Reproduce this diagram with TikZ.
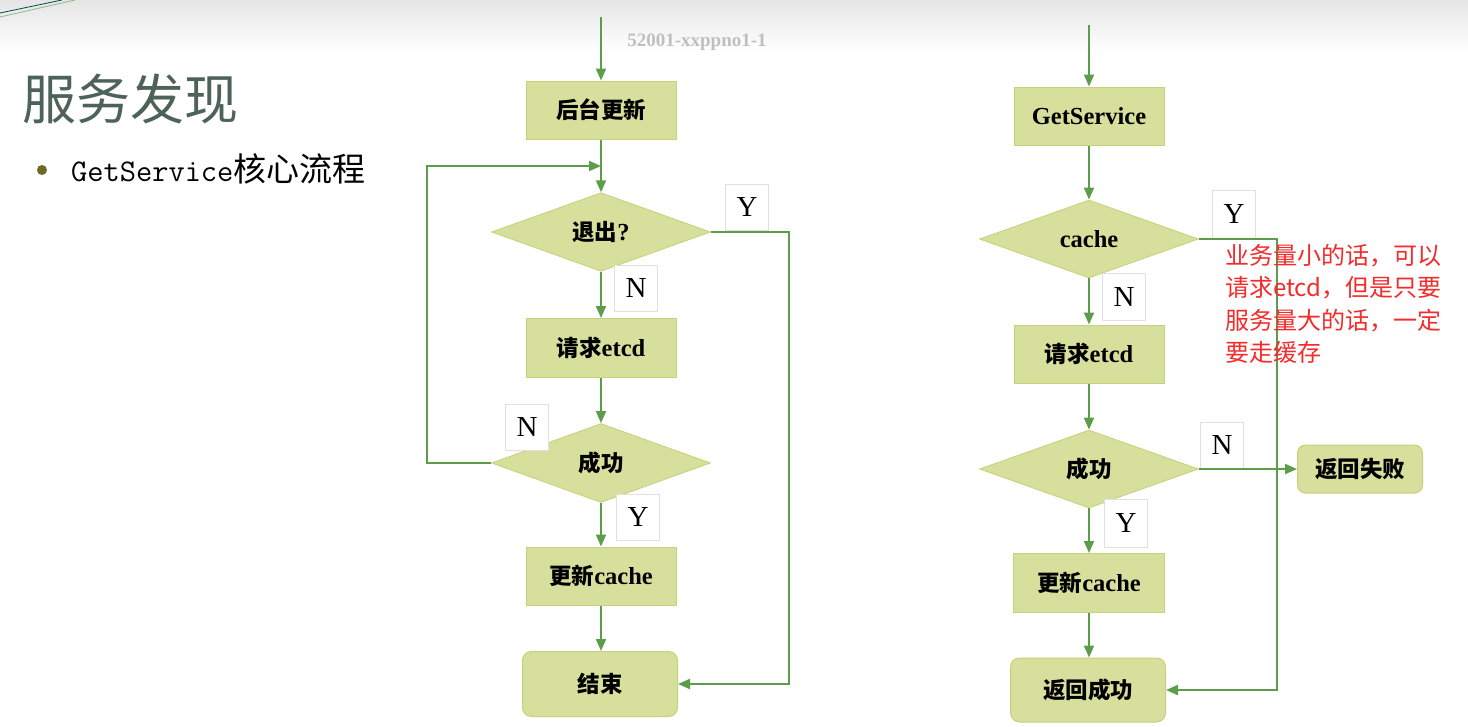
\documentclass[tikz,border=0pt]{standalone}
\usepackage{fontspec}
\setmainfont{Liberation Serif}
\newfontfamily\cjk{Noto Sans CJK SC}
\usetikzlibrary{shapes.geometric,arrows.meta}
\definecolor{boxfill}{HTML}{D6DF9B}
\definecolor{boxdraw}{HTML}{C5D27A}
\definecolor{lnk}{HTML}{5C9C4A}
\definecolor{titlec}{HTML}{4D6359}
\definecolor{redt}{HTML}{F52A2A}
\definecolor{bulletc}{HTML}{6B6B22}
\tikzset{
  stepbox/.style={draw=boxdraw,line width=1pt,fill=boxfill,minimum width=150pt,minimum height=58pt,inner sep=0pt,font=\fontsize{24.5}{26}\selectfont\bfseries},
  endbox/.style={stepbox,rounded corners=9pt},
  decide/.style={diamond,draw=boxdraw,line width=0.8pt,fill=boxfill,minimum width=219pt,minimum height=78pt,inner sep=0pt,font=\fontsize{24.5}{26}\selectfont\bfseries},
  lbl/.style={draw=black!12,fill=white,line width=0.8pt,minimum width=43pt,minimum height=46pt,inner sep=0pt,font=\fontsize{29}{30}\selectfont},
  link/.style={draw=lnk,line width=2pt},
  arr/.style={link,-{Triangle[length=12pt,width=10pt]}},
}
\newcommand{\zh}[1]{{\cjk\bfseries\fontsize{22.5}{24}\selectfont #1}}
\begin{document}
\begin{tikzpicture}[x=1pt,y=-1pt]
\useasboundingbox (0,0) rectangle (1468,726);
\fill[top color=black!10,bottom color=white] (0,0) rectangle (1468,52);
\draw[draw=teal!60!black,line width=0.8pt] (0,13) -- (62,0);
\draw[draw=lnk!70,line width=0.8pt] (0,17) -- (75,0);
% title
\node[anchor=west,text=titlec,font=\cjk\fontsize{54}{56}\selectfont,inner sep=0pt] (title) at (22,99) {服务发现};
\fill[bulletc] (42,170) circle (5pt);
\node[anchor=base west,inner sep=0pt] (bul) at (71,181) {{\ttfamily\fontsize{31.5}{33}\selectfont GetService}{\cjk\fontsize{33}{34}\selectfont 核心流程}};
\node[text=black!25,font=\fontsize{19}{20}\selectfont\bfseries,inner sep=0pt] (wm) at (697,42) {52001-xxppno1-1};
% left chart
\coordinate (s1) at (601,17);
\node[stepbox] (b1) at (601,110) {\zh{后台更新}};
\node[decide] (d1) at (601,232) {\zh{退出}?};
\node[stepbox,minimum height=59pt] (b2) at (601,348) {\zh{请求}etcd};
\node[decide,minimum height=79pt] (d2) at (601,463) {\zh{成功}};
\node[stepbox] (b3) at (601,576) {\zh{更新}cache};
\node[endbox,minimum width=155pt,minimum height=65pt] (e1) at (600,684) {\zh{结束}};
\node[lbl] (y1) at (747,207) {Y};
\node[lbl] (n1) at (636,288) {N};
\node[lbl] (n2) at (527,427) {N};
\node[lbl] (y2) at (638,517) {Y};
\coordinate (j1) at (601,166);
\coordinate (r1) at (789,232);
\coordinate (l1) at (427,463);
\draw[arr] (s1) -- (b1.north);
\draw[arr] (b1.south) -- (d1.north);
\draw[arr] (d1.south) -- (b2.north);
\draw[arr] (b2.south) -- (d2.north);
\draw[arr] (d2.south) -- (b3.north);
\draw[arr] (b3.south) -- (b3.south |- e1.north);
\draw[arr] (d2.west) -- (l1) |- (j1);
\draw[arr] (d1.east) -- (r1) |- (e1.east);
% right chart
\coordinate (s2) at (1089,25);
\node[stepbox] (g1) at (1089,116) {GetService};
\node[decide] (c1) at (1089,239) {cache};
\node[stepbox] (g2) at (1089,354) {\zh{请求}etcd};
\node[decide] (c2) at (1089,469) {\zh{成功}};
\node[stepbox,minimum width=151pt,minimum height=59pt] (g3) at (1089,583) {\zh{更新}cache};
\node[endbox,minimum width=155pt,minimum height=64pt] (g4) at (1088,690) {\zh{返回成功}};
\node[endbox,minimum width=125pt,minimum height=48pt,rounded corners=8pt] (f1) at (1360,469) {\zh{返回失败}};
\node[lbl,minimum height=48pt] (y3) at (1234,214) {Y};
\node[lbl,minimum height=47pt] (n3) at (1124,297) {N};
\node[lbl] (n4) at (1222,445) {N};
\node[lbl,minimum height=48pt] (y4) at (1126,523) {Y};
\coordinate (r2) at (1277,239);
\draw[arr] (s2) -- (g1.north);
\draw[arr] (g1.south) -- (c1.north);
\draw[arr] (c1.south) -- (g2.north);
\draw[arr] (g2.south) -- (c2.north);
\draw[arr] (c2.south) -- (g3.north);
\draw[arr] (g3.south) -- (g3.south |- g4.north);
\draw[arr] (c2.east) -- (f1.west);
\draw[arr] (c1.east) -- (r2) |- (g4.east);
% note
\node[anchor=north west,align=left,text=redt,inner sep=0pt,font=\cjk\fontsize{24}{32.5}\selectfont] (note) at (1225,244) {业务量小的话，可以\\请求etcd，但是只要\\服务量大的话，一定\\要走缓存};
\end{tikzpicture}
\end{document}
